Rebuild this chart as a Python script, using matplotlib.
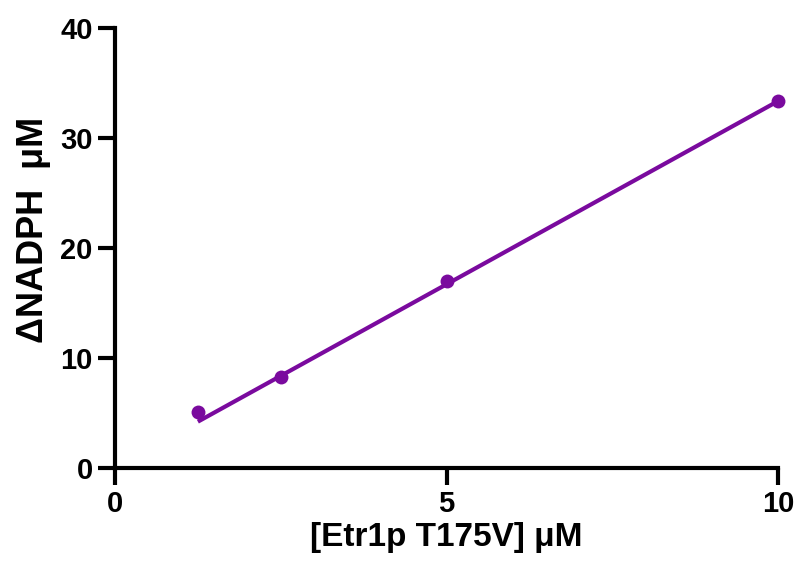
import numpy as np
import matplotlib.pyplot as plt

plt.rcParams['font.family'] = ['Liberation Sans', 'DejaVu Sans']
plt.rcParams['font.weight'] = 'bold'

# Data
enzyme_uM = [1.25, 2.5, 5.0, 10.0]
delta_nadph_uM = [5.1, 8.3, 17.0, 33.4]
# linear fit shown on the plot
fit_slope = 3.33
fit_intercept = 0.05

purple = '#7A0A9E'

fig = plt.figure(figsize=(8.01, 5.77), dpi=100)
ax = fig.add_axes([115 / 801, (577 - 468) / 577, (778 - 115) / 801, (468 - 28) / 577])

x_fit = np.array([min(enzyme_uM), max(enzyme_uM)])
ax.plot(x_fit, fit_intercept + fit_slope * x_fit, '-', color=purple, lw=3,
        solid_capstyle='butt')
ax.plot(enzyme_uM, delta_nadph_uM, 'o', color=purple, ms=10, markeredgewidth=0,
        clip_on=False)

ax.set_xlim(0, 10)
ax.set_ylim(0, 40)
ax.set_xticks([0, 5, 10])
ax.set_yticks([0, 10, 20, 30, 40])
for s in ['top', 'right']:
    ax.spines[s].set_visible(False)
for s in ['left', 'bottom']:
    ax.spines[s].set_linewidth(3)
ax.tick_params(width=3, length=12, labelsize=21, pad=4, direction='out')

ax.set_xlabel('[Etr1p T175V] μM', fontsize=24, fontweight='bold', labelpad=3)
ax.set_ylabel('ΔNADPH  μM', fontsize=26, fontweight='bold')
ax.yaxis.set_label_coords(-0.097, 0.54)

plt.savefig('out.png', dpi=100)
